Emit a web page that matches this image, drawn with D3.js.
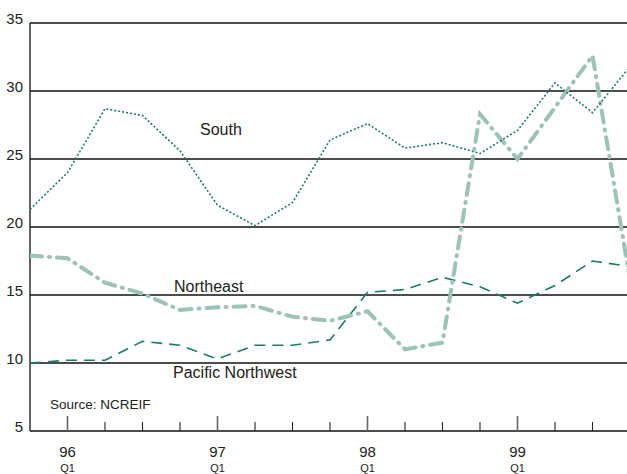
<!DOCTYPE html>
<html>
<head>
<meta charset="utf-8">
<script src="https://cdn.jsdelivr.net/npm/d3@7"></script>
<style>
  html, body { margin: 0; padding: 0; background: #fff; }
  svg { display: block; font-family: "Liberation Sans", Arial, sans-serif; }
</style>
</head>
<body>
<svg id="chart" width="627" height="474"></svg>
<script>
// Quarterly periods, 1995 Q4 through 1999 Q4
const quarters = ["95Q4","96Q1","96Q2","96Q3","96Q4","97Q1","97Q2","97Q3","97Q4",
                  "98Q1","98Q2","98Q3","98Q4","99Q1","99Q2","99Q3","99Q4"];

const south     = [21.3, 24.0, 28.7, 28.2, 25.6, 21.6, 20.1, 21.8, 26.4,
                   27.6, 25.8, 26.2, 25.4, 27.1, 30.6, 28.4, 31.8];
const northeast = [17.9, 17.7, 15.9, 15.1, 13.9, 14.1, 14.2, 13.4, 13.1,
                   13.8, 11.0, 11.5, 28.3, 25.0, 28.8, 32.6, 16.1];
const pacificNW = [10.0, 10.2, 10.2, 11.6, 11.3, 10.3, 11.3, 11.3, 11.7,
                   15.2, 15.4, 16.3, 15.6, 14.4, 15.7, 17.5, 17.1];

const yTicks = [5, 10, 15, 20, 25, 30, 35];
const yearLabels = ["96", "97", "98", "99"];
const yearStarts = ["96Q1", "97Q1", "98Q1", "99Q1"];

const svg = d3.select("#chart");
const plot = { left: 30, right: 627, top: 23, bottom: 431 };
const step = 37.5;

const x = d3.scalePoint()
  .domain(quarters)
  .range([plot.left, plot.left + step * (quarters.length - 1)]);

const y = d3.scaleLinear().domain([5, 35]).range([plot.bottom, plot.top]);

// horizontal gridlines
svg.append("g")
  .selectAll("line")
  .data(yTicks.filter(d => d > 5))
  .join("line")
  .attr("x1", plot.left).attr("x2", plot.right)
  .attr("y1", d => y(d)).attr("y2", d => y(d))
  .attr("stroke", "#111").attr("stroke-width", 1.3);

// y labels sitting on their gridlines
svg.append("g")
  .selectAll("text")
  .data(yTicks)
  .join("text")
  .attr("x", 23).attr("y", d => y(d) + 1)
  .attr("text-anchor", "end")
  .attr("font-size", 15)
  .attr("fill", "#222")
  .text(d => d);

// left axis line
svg.append("line")
  .attr("x1", plot.left).attr("x2", plot.left)
  .attr("y1", plot.top).attr("y2", plot.bottom)
  .attr("stroke", "#111").attr("stroke-width", 1.3);

// bottom axis line
svg.append("line")
  .attr("x1", plot.left).attr("x2", plot.right)
  .attr("y1", plot.bottom).attr("y2", plot.bottom)
  .attr("stroke", "#111").attr("stroke-width", 1.3);

// quarter ticks pointing up, taller at each year's first quarter
svg.append("g")
  .selectAll("line")
  .data(quarters.slice(1))
  .join("line")
  .attr("x1", d => x(d)).attr("x2", d => x(d))
  .attr("y1", plot.bottom)
  .attr("y2", d => yearStarts.includes(d) ? plot.bottom - 15 : plot.bottom - 9)
  .attr("stroke", d => yearStarts.includes(d) ? "#666" : "#222")
  .attr("stroke-width", d => yearStarts.includes(d) ? 1.6 : 1.1);

// year labels with quarter marker beneath
const yl = svg.append("g")
  .selectAll("g")
  .data(yearLabels)
  .join("g")
  .attr("transform", (d, i) => `translate(${x(yearStarts[i])},0)`);
yl.append("text")
  .attr("y", 456.5).attr("text-anchor", "middle")
  .attr("font-size", 15).attr("fill", "#222")
  .text(d => d);
yl.append("text")
  .attr("y", 472).attr("text-anchor", "middle")
  .attr("font-size", 11).attr("fill", "#222")
  .text("Q1");

// series lines
const line = d3.line()
  .x((d, i) => x(quarters[i]))
  .y(d => y(d));

svg.append("defs").append("clipPath").attr("id", "plotClip")
  .append("rect").attr("x", plot.left).attr("y", 0)
  .attr("width", plot.right - plot.left).attr("height", plot.bottom);

const lines = svg.append("g").attr("clip-path", "url(#plotClip)");

lines.append("path")
  .datum(pacificNW)
  .attr("d", line)
  .attr("fill", "none")
  .attr("stroke", "#1a7d6c")
  .attr("stroke-width", 1.6)
  .attr("stroke-dasharray", "11,7");

lines.append("path")
  .datum(northeast)
  .attr("d", line)
  .attr("fill", "none")
  .attr("stroke", "#9cc3b8")
  .attr("stroke-width", 4)
  .attr("stroke-linecap", "round")
  .attr("stroke-dasharray", "12,7,1,7");

lines.append("path")
  .datum(south)
  .attr("d", line)
  .attr("fill", "none")
  .attr("stroke", "#1a7d6c")
  .attr("stroke-width", 1.6)
  .attr("stroke-dasharray", "2,2");

// series and source labels
const notes = [
  { text: "South", x: 200, y: 135, size: 16 },
  { text: "Northeast", x: 174, y: 292, size: 16 },
  { text: "Pacific Northwest", x: 173, y: 378, size: 16 },
  { text: "Source: NCREIF", x: 50, y: 409, size: 13.5 }
];
svg.append("g")
  .selectAll("text")
  .data(notes)
  .join("text")
  .attr("x", d => d.x).attr("y", d => d.y)
  .attr("font-size", d => d.size)
  .attr("fill", "#222")
  .text(d => d.text);
</script>
</body>
</html>
